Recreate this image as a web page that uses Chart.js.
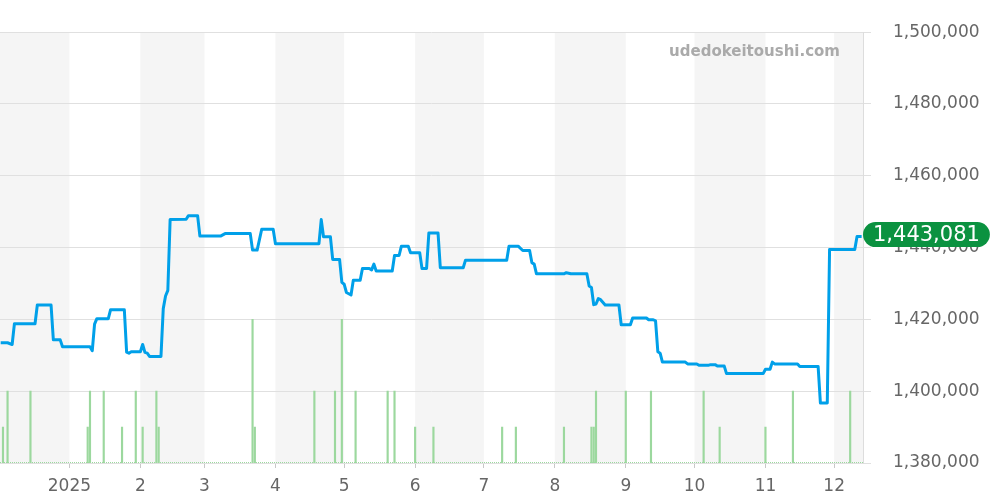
<!DOCTYPE html>
<html>
<head>
<meta charset="utf-8">
<script src="https://cdn.jsdelivr.net/npm/chart.js@4"></script>
<style>
  html, body { margin: 0; padding: 0; background: #fff; }
</style>
</head>
<body>
<canvas id="priceChart" width="1000" height="500"></canvas>
<script>
// price history (JPY)
const priceDates = [
  '2024-12-02', '2024-12-05', '2024-12-07', '2024-12-08', '2024-12-17', '2024-12-18', '2024-12-24', '2024-12-25',
  '2024-12-28', '2024-12-29', '2025-01-10', '2025-01-11', '2025-01-12', '2025-01-13', '2025-01-18', '2025-01-19',
  '2025-01-25', '2025-01-26', '2025-01-27', '2025-01-28', '2025-02-01', '2025-02-02', '2025-02-03', '2025-02-04',
  '2025-02-05', '2025-02-10', '2025-02-11', '2025-02-12', '2025-02-13', '2025-02-14', '2025-02-21', '2025-02-22',
  '2025-02-26', '2025-02-27', '2025-03-08', '2025-03-10', '2025-03-21', '2025-03-22', '2025-03-24', '2025-03-26',
  '2025-03-31', '2025-04-01', '2025-04-20', '2025-04-21', '2025-04-22', '2025-04-25', '2025-04-26', '2025-04-29',
  '2025-04-30', '2025-05-01', '2025-05-02', '2025-05-04', '2025-05-05', '2025-05-08', '2025-05-09', '2025-05-12',
  '2025-05-13', '2025-05-14', '2025-05-15', '2025-05-22', '2025-05-23', '2025-05-25', '2025-05-26', '2025-05-29',
  '2025-05-30', '2025-06-03', '2025-06-04', '2025-06-06', '2025-06-07', '2025-06-11', '2025-06-12', '2025-06-22',
  '2025-06-23', '2025-07-11', '2025-07-12', '2025-07-16', '2025-07-18', '2025-07-21', '2025-07-22', '2025-07-23',
  '2025-07-24', '2025-08-05', '2025-08-06', '2025-08-08', '2025-08-15', '2025-08-16', '2025-08-17', '2025-08-18',
  '2025-08-19', '2025-08-20', '2025-08-21', '2025-08-23', '2025-08-29', '2025-08-30', '2025-09-03', '2025-09-04',
  '2025-09-10', '2025-09-11', '2025-09-13', '2025-09-14', '2025-09-15', '2025-09-16', '2025-09-17', '2025-09-27',
  '2025-09-28', '2025-10-02', '2025-10-03', '2025-10-07', '2025-10-08', '2025-10-10', '2025-10-11', '2025-10-14',
  '2025-10-15', '2025-10-31', '2025-11-01', '2025-11-03', '2025-11-04', '2025-11-05', '2025-11-15', '2025-11-16',
  '2025-11-24', '2025-11-25', '2025-11-28', '2025-11-29', '2025-12-10', '2025-12-11', '2025-12-13'
];
const priceValues = [
  1413500, 1413500, 1413000, 1418800, 1418800, 1424000, 1424000, 1414300,
  1414300, 1412400, 1412400, 1411300, 1418700, 1420200, 1420200, 1422700,
  1422700, 1410900, 1410600, 1411000, 1411000, 1413000, 1410800, 1410600,
  1409700, 1409700, 1423000, 1426500, 1428100, 1447800, 1447900, 1448900,
  1448900, 1443200, 1443200, 1443900, 1443900, 1439300, 1439300, 1445100,
  1445100, 1441100, 1441100, 1447800, 1443000, 1443000, 1436700, 1436700,
  1430300, 1429800, 1427500, 1426800, 1430900, 1430900, 1434200, 1434200,
  1433800, 1435400, 1433500, 1433500, 1437800, 1437800, 1440400, 1440400,
  1438600, 1438600, 1434200, 1434200, 1444100, 1444100, 1434400, 1434400,
  1436500, 1436500, 1440400, 1440400, 1439200, 1439200, 1435800, 1435400,
  1432700, 1432700, 1433000, 1432700, 1432700, 1429300, 1428900, 1424100,
  1424300, 1425800, 1425500, 1424000, 1424000, 1418500, 1418500, 1420400,
  1420400, 1419900, 1419900, 1419600, 1411000, 1410600, 1408100, 1408100,
  1407600, 1407600, 1407200, 1407200, 1407400, 1407400, 1407000, 1407000,
  1404900, 1404900, 1406100, 1406100, 1408100, 1407600, 1407600, 1406900,
  1406900, 1396700, 1396700, 1439500, 1439500, 1443081, 1443081
];

// number of trades per day
const volumeDates = [
  '2024-12-03', '2024-12-05', '2024-12-15', '2025-01-09', '2025-01-10', '2025-01-16', '2025-01-24', '2025-01-30',
  '2025-02-02', '2025-02-08', '2025-02-09', '2025-03-22', '2025-03-23', '2025-04-18', '2025-04-27', '2025-04-30',
  '2025-05-06', '2025-05-20', '2025-05-23', '2025-06-01', '2025-06-09', '2025-07-09', '2025-07-15', '2025-08-05',
  '2025-08-17', '2025-08-18', '2025-08-19', '2025-09-01', '2025-09-12', '2025-10-05', '2025-10-12', '2025-11-01',
  '2025-11-13', '2025-12-08'
];
const volumeCounts = [
  1, 2, 2, 1, 2, 2, 1, 2,
  1, 2, 1, 4, 1, 2, 2, 4,
  2, 2, 2, 1, 1, 1, 1, 1,
  1, 1, 2, 2, 2, 2, 1, 1,
  2, 2
];

// x axis labels
const monthTickDates = ['2025-01-01', '2025-02-01', '2025-03-01', '2025-04-01', '2025-05-01', '2025-06-01',
  '2025-07-01', '2025-08-01', '2025-09-01', '2025-10-01', '2025-11-01', '2025-12-01'];
const monthTickLabels = ['2025', '2', '3', '4', '5', '6', '7', '8', '9', '10', '11', '12'];
// month boundaries for the grey bands (every other month)
const bandMonths = ['2024-12-01', '2025-01-01', '2025-02-01', '2025-03-01', '2025-04-01', '2025-05-01', '2025-06-01',
  '2025-07-01', '2025-08-01', '2025-09-01', '2025-10-01', '2025-11-01', '2025-12-01', '2026-01-01'];

// days since 2025-01-01
function dayNum(s) {
  const p = s.split('-').map(Number);
  return (Date.UTC(p[0], p[1] - 1, p[2]) - Date.UTC(2025, 0, 1)) / 86400000;
}

const xMin = dayNum('2024-12-02') - 0.3;
const xMax = dayNum('2025-12-13') + 0.6;
const lastPrice = priceValues[priceValues.length - 1];
const fontFamily = "'DejaVu Sans', sans-serif";

// grey bands, watermark and dotted baseline
const backdrop = {
  id: 'backdrop',
  beforeDraw(chart) {
    const { ctx, chartArea: a, scales: { x } } = chart;
    ctx.save();
    ctx.beginPath();
    ctx.rect(a.left, a.top, a.right - a.left, a.bottom - a.top);
    ctx.clip();
    ctx.fillStyle = '#f5f5f5';
    for (let i = 0; i < bandMonths.length - 1; i += 2) {
      const x0 = x.getPixelForValue(dayNum(bandMonths[i]));
      const x1 = x.getPixelForValue(dayNum(bandMonths[i + 1]));
      ctx.fillRect(x0, a.top, x1 - x0, a.bottom - a.top);
    }
    ctx.restore();
  },
  beforeDatasetsDraw(chart) {
    const { ctx } = chart;
    ctx.save();
    ctx.font = "bold 15px " + fontFamily;
    ctx.fillStyle = '#aaaaaa';
    ctx.textAlign = 'right';
    ctx.textBaseline = 'middle';
    ctx.fillText('udedokeitoushi.com', 840, 52);
    ctx.restore();
  },
  afterDatasetsDraw(chart) {
    const { ctx, chartArea: a } = chart;
    ctx.save();
    ctx.strokeStyle = '#9cd89e';
    ctx.lineWidth = 1;
    ctx.setLineDash([1, 1]);
    ctx.beginPath();
    ctx.moveTo(a.left, a.bottom - 0.5);
    ctx.lineTo(a.right, a.bottom - 0.5);
    ctx.stroke();
    ctx.restore();
  }
};

// green pill with the latest price
const lastPriceTag = {
  id: 'lastPriceTag',
  afterDraw(chart) {
    const { ctx, chartArea: a, scales: { y } } = chart;
    const label = lastPrice.toLocaleString('en-US');
    const cy = y.getPixelForValue(lastPrice) - 2;
    const h = 25, r = h / 2;
    ctx.save();
    ctx.font = '21px ' + fontFamily;
    const w = ctx.measureText(label).width + 20;
    const x0 = a.right;
    ctx.fillStyle = '#0b9240';
    ctx.beginPath();
    ctx.moveTo(x0 + r, cy - r);
    ctx.lineTo(x0 + w - r, cy - r);
    ctx.arc(x0 + w - r, cy, r, -Math.PI / 2, Math.PI / 2);
    ctx.lineTo(x0 + r, cy + r);
    ctx.arc(x0 + r, cy, r, Math.PI / 2, Math.PI * 1.5);
    ctx.closePath();
    ctx.fill();
    ctx.fillStyle = '#ffffff';
    ctx.textAlign = 'center';
    ctx.textBaseline = 'middle';
    ctx.fillText(label, x0 + w / 2, cy + 1);
    ctx.restore();
  }
};

const priceChart = new Chart(document.getElementById('priceChart').getContext('2d'), {
  type: 'line',
  data: {
    datasets: [{
      type: 'line',
      label: 'price',
      data: priceDates.map((d, i) => ({ x: dayNum(d), y: priceValues[i] })),
      borderColor: '#00a0e9',
      borderWidth: 3,
      borderJoinStyle: 'round',
      pointRadius: 0,
      tension: 0,
      yAxisID: 'y',
      order: 1
    }, {
      type: 'bar',
      label: 'trades',
      data: volumeDates.map((d, i) => ({ x: dayNum(d), y: volumeCounts[i] })),
      backgroundColor: '#9cd89e',
      barThickness: 1.5,
      yAxisID: 'vol',
      order: 2
    }]
  },
  options: {
    responsive: false,
    animation: false,
    layout: { padding: { top: 30, left: 0, right: 0, bottom: 0 } },
    plugins: {
      legend: { display: false },
      tooltip: { enabled: false }
    },
    scales: {
      x: {
        type: 'linear',
        min: xMin,
        max: xMax,
        offset: false,
        afterBuildTicks: scale => {
          scale.ticks = monthTickDates.map(d => ({ value: dayNum(d) }));
        },
        afterFit: scale => { scale.height = 37; },
        ticks: {
          callback: (v, i) => monthTickLabels[i],
          color: '#666',
          font: { size: 17, family: fontFamily },
          padding: 8,
          maxRotation: 0,
          autoSkip: false
        },
        grid: { offset: false, drawOnChartArea: false, drawTicks: true, tickLength: 5, color: '#c8c8c8' },
        border: { display: false }
      },
      y: {
        position: 'right',
        min: 1380000,
        max: 1500000,
        afterFit: scale => { scale.width = 137; },
        ticks: {
          stepSize: 20000,
          callback: v => v.toLocaleString('en-US'),
          color: '#666',
          font: { size: 17, family: fontFamily },
          padding: 22
        },
        grid: { color: '#e0e0e0', drawTicks: true, tickLength: 8 },
        border: { display: true, color: '#dddddd' }
      },
      vol: {
        display: false,
        min: 0,
        max: 12
      }
    }
  },
  plugins: [backdrop, lastPriceTag]
});
</script>
</body>
</html>
